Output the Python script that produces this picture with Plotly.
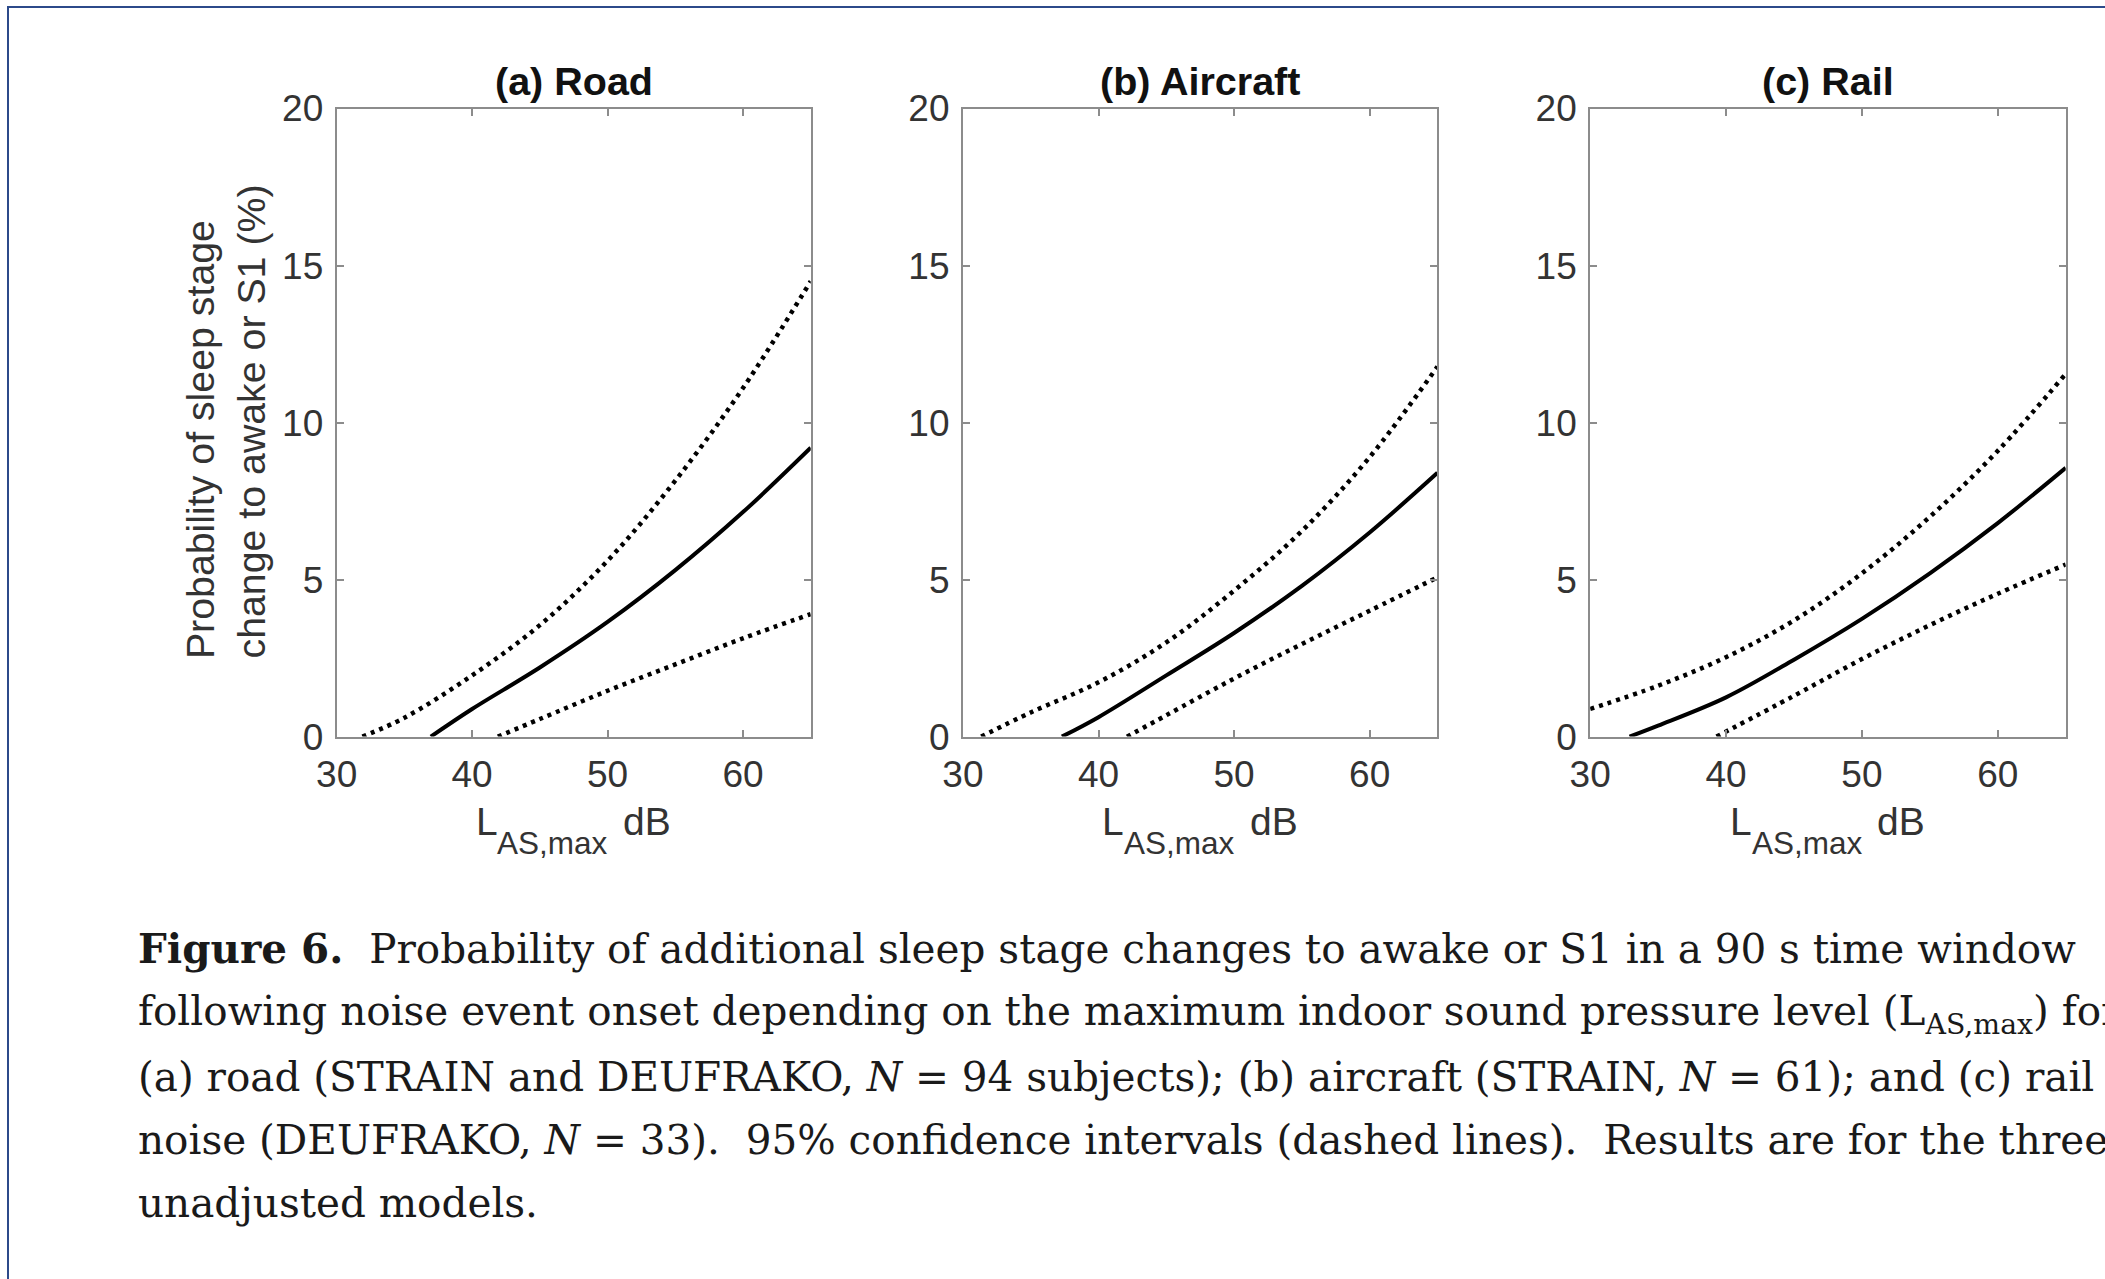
import plotly.graph_objects as go

W, H = 2105, 1279

titles = ["(a) Road", "(b) Aircraft", "(c) Rail"]
x_ticks = [30, 40, 50, 60]
y_ticks = [0, 5, 10, 15, 20]

# (a) Road
road_mean_x = [36.95, 40, 45, 50, 55, 60, 65]
road_mean_y = [0, 0.88, 2.2, 3.65, 5.3, 7.15, 9.2]
road_up_x = [31.9, 35, 40, 45, 50, 55, 60, 65]
road_up_y = [0, 0.6, 1.95, 3.55, 5.6, 8.15, 11.1, 14.5]
road_lo_x = [41.9, 45, 50, 55, 60, 65]
road_lo_y = [0, 0.56, 1.46, 2.3, 3.13, 3.9]

# (b) Aircraft
air_mean_x = [37.3, 40, 45, 50, 55, 60, 65]
air_mean_y = [0, 0.62, 1.95, 3.3, 4.8, 6.5, 8.4]
air_up_x = [31.35, 35, 40, 45, 50, 55, 60, 65]
air_up_y = [0, 0.77, 1.73, 3.0, 4.65, 6.55, 8.9, 11.78]
air_lo_x = [42.1, 45, 50, 55, 60, 65]
air_lo_y = [0, 0.68, 1.85, 2.95, 4.01, 5.07]

# (c) Rail
rail_mean_x = [32.9, 35, 40, 45, 50, 55, 60, 65]
rail_mean_y = [0, 0.35, 1.25, 2.45, 3.75, 5.2, 6.8, 8.56]
rail_up_x = [30, 35, 40, 45, 50, 55, 60, 65]
rail_up_y = [0.88, 1.62, 2.53, 3.7, 5.2, 7.0, 9.1, 11.55]
rail_lo_x = [39.3, 45, 50, 55, 60, 65]
rail_lo_y = [0, 1.3, 2.47, 3.55, 4.55, 5.48]

panels = [
    (road_mean_x, road_mean_y, road_up_x, road_up_y, road_lo_x, road_lo_y),
    (air_mean_x, air_mean_y, air_up_x, air_up_y, air_lo_x, air_lo_y),
    (rail_mean_x, rail_mean_y, rail_up_x, rail_up_y, rail_lo_x, rail_lo_y),
]

ylabel_lines = ["Probability of sleep stage", "change to awake or S1 (%)"]
xlabel_parts = ["L", "AS,max", "dB"]

caption_lines = [
    "<b>Figure 6.</b>&nbsp; Probability of additional sleep stage changes to awake or S1 in a 90 s time window",
    "following noise event onset depending on the maximum indoor sound pressure level (L<sub>AS,max</sub>) for",
    "(a) road (STRAIN and DEUFRAKO, <i>N</i> = 94 subjects); (b) aircraft (STRAIN, <i>N</i> = 61); and (c) rail",
    "noise (DEUFRAKO, <i>N</i> = 33).&nbsp; 95% confidence intervals (dashed lines).&nbsp; Results are for the three",
    "unadjusted models.",
]

# target positions (pixels in the 2105x1279 picture) and the observed render mapping
OX, SX = 17.7, 0.992
OY, SY = 18.9, 0.9686


def px(t):
    return (t - OX) / SX / W


def py(t):
    return 1 - (t - OY) / SY / H


x_left = [334, 961.5, 1590]
x_right = [809, 1437, 2066.5]
y_top, y_bot = 107.5, 736

fig = go.Figure()
SANS = "Liberation Sans, Arial, sans-serif"
SERIF = "DejaVu Serif, serif"
AXC = "#8c8c8c"
TXT = "#333333"

for i, (mx, my, ux, uy, lx, ly) in enumerate(panels):
    xa = "x" if i == 0 else f"x{i+1}"
    ya = "y" if i == 0 else f"y{i+1}"
    for xs, ys, dash, w in [(ux, uy, "4px,5px", 4.5), (lx, ly, "4px,5px", 4.5), (mx, my, "solid", 4)]:
        fig.add_trace(go.Scatter(x=xs, y=ys, mode="lines", xaxis=xa, yaxis=ya,
                                 line=dict(color="black", width=w, dash=dash, shape="spline", smoothing=1.0),
                                 showlegend=False, hoverinfo="skip"))
    axis_common = dict(showline=True, linecolor=AXC, linewidth=2, mirror="allticks",
                       ticks="inside", ticklen=7, tickwidth=1.5, tickcolor=AXC,
                       showgrid=False, zeroline=False,
                       tickfont=dict(family=SANS, size=37, color=TXT))
    fig.layout[f"xaxis{'' if i == 0 else i+1}"] = dict(
        domain=[px(x_left[i]), px(x_right[i])], range=[30, 65], tickvals=x_ticks,
        anchor=ya, ticklabelstandoff=4, **axis_common)
    fig.layout[f"yaxis{'' if i == 0 else i+1}"] = dict(
        domain=[py(y_bot), py(y_top)], range=[0, 20], tickvals=y_ticks,
        anchor=xa, ticklabelstandoff=4, **axis_common)
    cx = (x_left[i] + x_right[i]) / 2
    fig.add_annotation(x=px(cx), y=py(80), xref="paper", yref="paper", text=f"<b>{titles[i]}</b>",
                       showarrow=False, xanchor="center", yanchor="middle",
                       font=dict(family=SANS, size=39.5, color="#111111"))
    # x-axis title: L with a lowered subscript, then dB
    for part, dx, yy, fs in [(xlabel_parts[0], -99, 821, 39), (xlabel_parts[1], -77.5, 842, 31.5),
                             (xlabel_parts[2], 48.5, 821, 39)]:
        fig.add_annotation(x=px(cx + dx), y=py(yy), xref="paper", yref="paper", text=part,
                           showarrow=False, xanchor="left", yanchor="middle", borderpad=0,
                           font=dict(family=SANS, size=fs, color=TXT))

for ln, lx_ in zip(ylabel_lines, [197, 248]):
    fig.add_annotation(x=px(lx_), y=py(659), xref="paper", yref="paper", text=ln,
                       showarrow=False, textangle=-90, xanchor="center", yanchor="bottom", borderpad=0,
                       font=dict(family=SANS, size=39.3, color=TXT))

cap_y = [949, 1014, 1077, 1140, 1203]
for ln, cy in zip(caption_lines, cap_y):
    fig.add_annotation(x=px(133), y=py(cy), xref="paper", yref="paper", text=ln,
                       showarrow=False, xanchor="left", yanchor="middle", align="left",
                       font=dict(family=SERIF, size=40.5, color="#1a1a1a"))

fig.update_layout(width=W, height=H, margin=dict(l=0, r=0, t=0, b=0),
                  paper_bgcolor="white", plot_bgcolor="white")

post = ("document.documentElement.style.margin='0';document.body.style.margin='0';"
        "var d=document.createElement('div');"
        "d.style.cssText='position:fixed;left:7px;top:6px;width:6000px;height:6000px;"
        "border-left:2.5px solid #2c4a8a;border-top:2.5px solid #2c4a8a;pointer-events:none;z-index:10;';"
        "document.body.appendChild(d);")
fig.write_html("out.html", config={"displayModeBar": False}, post_script=post)
